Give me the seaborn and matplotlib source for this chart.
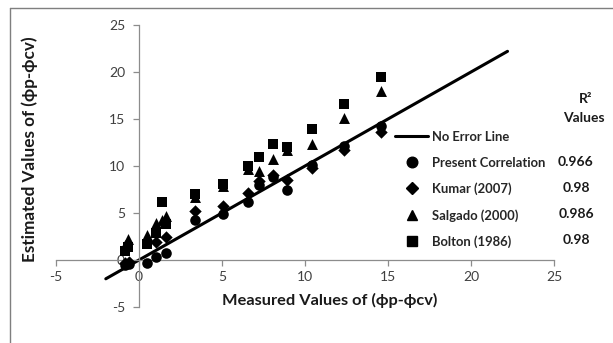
import matplotlib
matplotlib.use("Agg")
import matplotlib.pyplot as plt
from matplotlib.lines import Line2D
import seaborn as sns
import pandas as pd

# ---- data ----
present_x = [-0.85, -0.6, 0.5, 1.0, 1.65, 3.35, 5.05, 6.55, 7.2, 8.05, 8.9, 10.4, 12.35, 14.55]
present_y = [-0.5, -0.4, -0.3, 0.3, 0.75, 4.3, 4.9, 6.2, 7.95, 8.85, 7.5, 10.1, 12.1, 14.3]

kumar_x = [-0.85, -0.6, 1.0, 1.65, 3.35, 5.05, 6.55, 7.2, 8.05, 8.9, 10.4, 12.35, 14.55]
kumar_y = [-0.3, -0.2, 1.9, 2.5, 5.2, 5.7, 7.1, 8.4, 9.0, 8.5, 9.8, 11.7, 13.6]

salgado_x = [-0.85, -0.65, 0.5, 1.0, 1.4, 1.65, 3.35, 5.05, 6.55, 7.2, 8.05, 8.9, 10.4, 12.35, 14.55]
salgado_y = [1.6, 2.2, 2.7, 3.9, 4.3, 4.7, 6.7, 7.9, 9.7, 9.5, 10.7, 11.7, 12.3, 15.1, 18.0]

bolton_x = [-0.85, -0.65, 0.5, 1.0, 1.4, 1.65, 3.35, 5.05, 6.55, 7.2, 8.05, 8.9, 10.4, 12.35, 14.55]
bolton_y = [1.0, 1.4, 1.65, 2.9, 6.2, 3.8, 7.0, 8.1, 10.0, 11.0, 12.3, 12.0, 13.9, 16.6, 19.5]

line_x = [-2.0, 22.2]
line_y = [-2.0, 22.2]

series_names = ["Present Correlation", "Kumar (2007)", "Salgado (2000)", "Bolton (1986)"]
r2_values = ["0.966", "0.98", "0.986", "0.98"]
x_ticks = [-5, 0, 5, 10, 15, 20, 25]
y_ticks = [-5, 0, 5, 10, 15, 20, 25]

# ---- style ----
sns.set_style("white")
plt.rcParams['font.family'] = ['Lato', 'DejaVu Sans']

W, H = 613, 343
fig = plt.figure(figsize=(W / 100, H / 100), dpi=100)
ax = fig.add_axes([56 / W, 1 - 307 / H, (554 - 56) / W, (307 - 25) / H])

markers = {"Present Correlation": ("o", 58), "Kumar (2007)": ("D", 40),
           "Salgado (2000)": ("^", 62), "Bolton (1986)": ("s", 58)}

sns.lineplot(x=line_x, y=line_y, ax=ax, color="black", linewidth=2.2, legend=False)

for name, xs, ys in zip(series_names,
                        [present_x, kumar_x, salgado_x, bolton_x],
                        [present_y, kumar_y, salgado_y, bolton_y]):
    m, s = markers[name]
    sns.scatterplot(x=xs, y=ys, ax=ax, marker=m, s=s, color="black",
                    edgecolor="black", linewidth=0, legend=False, zorder=3)

ax.set_xlim(-5, 25)
ax.set_ylim(-5, 25)
ax.set_xticks(x_ticks)
ax.set_yticks(y_ticks)
ax.set_xticklabels([str(v) for v in x_ticks])
ax.set_yticklabels([str(v) for v in y_ticks])

gray = "#8c8c8c"
for side in ["top", "right"]:
    ax.spines[side].set_visible(False)
ax.spines["left"].set_position(("data", 0))
ax.spines["bottom"].set_position(("data", 0))
ax.spines["left"].set_color(gray)
ax.spines["bottom"].set_color(gray)
ax.spines["left"].set_linewidth(0.9)
ax.spines["bottom"].set_linewidth(0.9)
ax.tick_params(axis="both", direction="out", length=4, width=0.9, color=gray,
               labelsize=10, labelcolor="#404040", left=True, bottom=True)
ax.tick_params(axis="x", pad=4)
ax.tick_params(axis="y", pad=6)
ax.patch.set_alpha(0)

# axis titles
fig.text(330 / W, 1 - 300 / H, "Measured Values of (\u03d5p-\u03d5cv)",
         ha="center", va="center", fontsize=11.8, fontweight="bold", color="#1a1a1a")
fig.text(30 / W, 1 - 149 / H, "Estimated Values of (\u03d5p-\u03d5cv)",
         ha="center", va="center", rotation=90, fontsize=12.3, fontweight="bold", color="#1a1a1a")

# legend
handles = [Line2D([0], [0], color="black", linewidth=2.2)]
for name in series_names:
    m, s = markers[name]
    handles.append(Line2D([0], [0], linestyle="none", marker=m, color="black",
                          markersize=(s ** 0.5)))
labels = ["No Error Line"] + series_names
leg = fig.legend(handles, labels, loc="upper left",
                 bbox_to_anchor=(395 / W, 1 - 131 / H), frameon=False,
                 prop={"size": 9.4, "weight": "bold"}, borderpad=0,
                 handlelength=2.55, handletextpad=0.3, labelspacing=1.05,
                 borderaxespad=0)

for i, val in enumerate(r2_values):
    y = 162 + 26 * i
    fig.text(576 / W, 1 - y / H, val, ha="center", va="center",
             fontsize=10, fontweight="bold", color="#1a1a1a")
fig.text(586 / W, 1 - 99 / H, "R\u00b2", ha="center", va="center",
         fontsize=10, fontweight="bold", color="#1a1a1a")
fig.text(584 / W, 1 - 118 / H, "Values", ha="center", va="center",
         fontsize=10, fontweight="bold", color="#1a1a1a")

# chart area border (left and top edges visible)
fig.add_artist(Line2D([10 / W, 10 / W], [0, 1 - 8 / H], transform=fig.transFigure,
                      color="#7f7f7f", linewidth=1))
fig.add_artist(Line2D([10 / W, 1], [1 - 8 / H, 1 - 8 / H], transform=fig.transFigure,
                      color="#7f7f7f", linewidth=1))

fig.savefig("out.png", dpi=100)
